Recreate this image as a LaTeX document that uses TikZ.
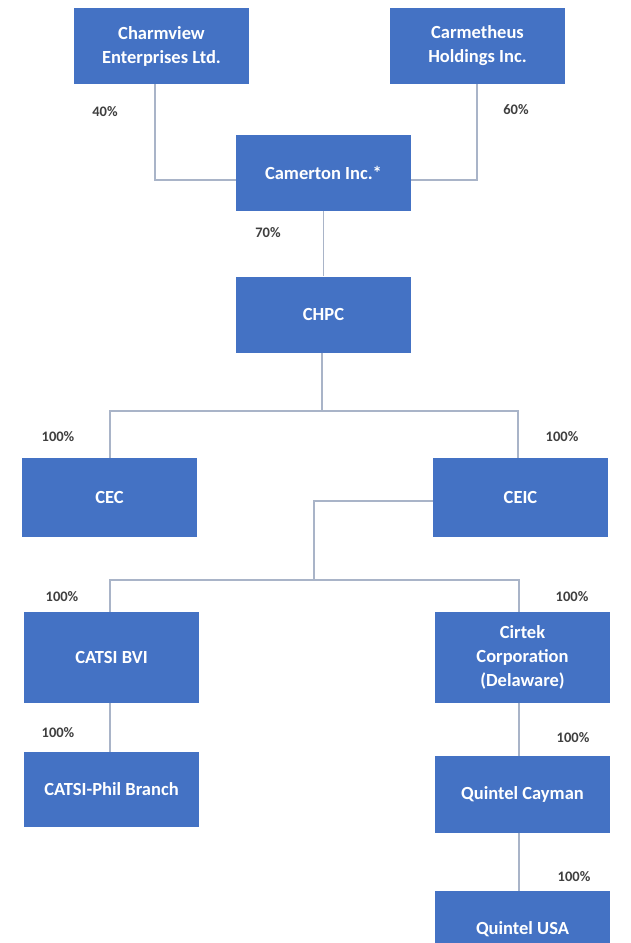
\documentclass[tikz,border=0pt]{standalone}
\usepackage{fontspec}
\setmainfont{Carlito}
\usetikzlibrary{calc}
\definecolor{boxblue}{HTML}{4472C4}
\definecolor{linecol}{HTML}{A9B4C8}
\definecolor{pctcol}{HTML}{3F3F3F}
\begin{document}
\begin{tikzpicture}[x=1pt,y=-1pt,
  ent/.style={fill=boxblue, draw=none, text=white, font=\bfseries\fontsize{18.5}{24}\selectfont, align=center, minimum width=175pt, minimum height=76pt, inner sep=2pt},
  pct/.style={text=pctcol, font=\bfseries\fontsize{14.5}{16}\selectfont, inner sep=0pt},
  conn/.style={draw=linecol, line width=1.4pt}]
\useasboundingbox (0,0) rectangle (630,943);
\fill[white] (0,0) rectangle (630,943);
% entities
\node[ent] (charm) at (161.5,46) {Charmview\\Enterprises Ltd.};
\node[ent] (carm) at (477.5,46) {Carmetheus\\Holdings Inc.};
\node[ent] (cam) at (323.5,173) {Camerton Inc.*};
\node[ent] (chpc) at (323.5,314.5) {CHPC};
\node[ent, minimum height=79pt] (cec) at (109.5,497.5) {CEC};
\node[ent, minimum height=79pt] (ceic) at (520.5,497.5) {CEIC};
\node[ent, minimum height=91pt] (catsi) at (111.5,657.5) {CATSI BVI};
\node[ent, minimum height=91pt] (cirtek) at (522.5,657.5) {Cirtek\\Corporation\\(Delaware)};
\node[ent, minimum height=75pt] (phil) at (111.5,789.5) {CATSI-Phil Branch};
\node[ent, minimum height=77pt] (cayman) at (522.5,794.5) {Quintel Cayman};
\node[ent, minimum height=77pt] (usa) at (522.5,929.5) {Quintel USA};
% junction coordinates
\coordinate (j1) at (155,180);
\coordinate (j2) at (477,180);
\coordinate (b1) at (322,411);
\coordinate (b1l) at (110,411);
\coordinate (b1r) at (518,411);
\coordinate (k1) at (314,501);
\coordinate (b2) at (314,580);
\coordinate (b2l) at (110,580);
\coordinate (b2r) at (519,580);
% connectors
\draw[conn] (charm.south -| j1) -- (j1) -- (j1 -| cam.west);
\draw[conn] (carm.south -| j2) -- (j2) -- (j2 -| cam.east);
\draw[conn] (cam.south) -- (chpc.north);
\draw[conn] (chpc.south -| b1) -- (b1);
\draw[conn] (cec.north -| b1l) -- (b1l) -- (b1r) -- (ceic.north -| b1r);
\draw[conn] (ceic.west |- k1) -- (k1) -- (b2);
\draw[conn] (catsi.north -| b2l) -- (b2l) -- (b2r) -- (cirtek.north -| b2r);
\draw[conn] (catsi.south -| b2l) -- (phil.north -| b2l);
\draw[conn] (cirtek.south -| b2r) -- (cayman.north -| b2r);
\draw[conn] (cayman.south -| b2r) -- (usa.north -| b2r);
% percentages
\node[pct] (p40) at (105,112) {40\%};
\node[pct] (p60) at (516,110) {60\%};
\node[pct] (p70) at (268,233) {70\%};
\node[pct] (p1) at (58,437) {100\%};
\node[pct] (p2) at (562,437) {100\%};
\node[pct] (p3) at (62,597) {100\%};
\node[pct] (p4) at (572,597) {100\%};
\node[pct] (p5) at (58,733) {100\%};
\node[pct] (p6) at (573,738) {100\%};
\node[pct] (p7) at (574,877) {100\%};
\end{tikzpicture}
\end{document}
